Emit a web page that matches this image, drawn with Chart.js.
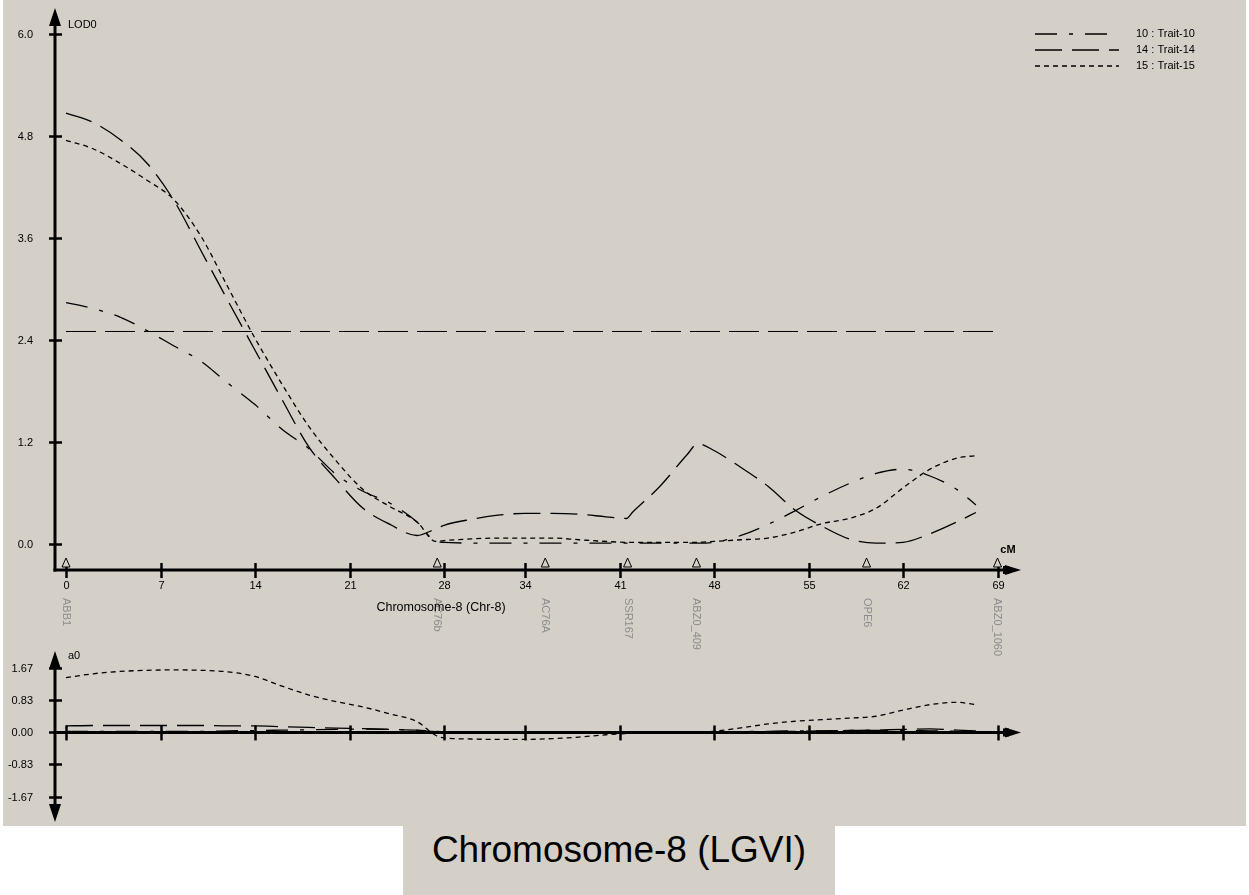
<!DOCTYPE html>
<html>
<head>
<meta charset="utf-8">
<script src="https://cdn.jsdelivr.net/npm/chart.js@4.4.1/dist/chart.umd.min.js"></script>
<style>
  html, body { margin: 0; padding: 0; background: #ffffff; }
  #panel { position: absolute; left: 3px; top: 0; width: 1243px; height: 826px; background: #d4d0c8; }
  canvas { position: absolute; left: 0; }
  #lodChart { top: 0; }
  #addChart { top: 640px; }
  #caption {
    position: absolute; left: 403px; top: 826px; width: 432px; height: 66px;
    padding-top: 3px; background: #d4d0c8; text-align: center;
    font: 37px "Liberation Sans", Arial, sans-serif; line-height: 42px; color: #000;
  }
</style>
</head>
<body>
<div id="panel"></div>
<canvas id="lodChart" width="1249" height="680"></canvas>
<canvas id="addChart" width="1249" height="190"></canvas>
<div id="caption">Chromosome-8 (LGVI)</div>

<script>
// positions along the chromosome (cM)
const positions = [0, 2, 4, 6, 8, 10, 12, 14, 16, 18, 20, 22, 24, 26, 27.4, 28, 30, 32, 34, 36, 38, 40,
    41.5, 42, 44, 46, 46.8, 48, 50, 52, 54, 56, 58, 60, 62, 64, 66, 67.4];

// LOD profiles
const lod10 = [2.84, 2.77, 2.67, 2.51, 2.33, 2.15, 1.89, 1.64, 1.35, 1.12, 0.82, 0.62, 0.48, 0.26, 0.03, 0.02,
    0.01, 0.01, 0.01, 0.01, 0.01, 0.01, 0.01, 0.01, 0.01, 0.01, 0.01, 0.02, 0.1, 0.23, 0.39, 0.56, 0.71, 0.83,
    0.88, 0.8, 0.64, 0.46];
const lod14 = [5.07, 4.96, 4.76, 4.48, 4.04, 3.45, 2.86, 2.28, 1.7, 1.14, 0.76, 0.42, 0.23, 0.1, 0.18, 0.22,
    0.29, 0.34, 0.36, 0.36, 0.35, 0.32, 0.3, 0.38, 0.68, 1.05, 1.18, 1.1, 0.9, 0.68, 0.4, 0.21, 0.06, 0.01,
    0.02, 0.12, 0.26, 0.37];
const lod15 = [4.75, 4.65, 4.48, 4.28, 4.05, 3.62, 3.02, 2.42, 1.88, 1.38, 0.98, 0.64, 0.44, 0.26, 0.03, 0.04,
    0.06, 0.07, 0.07, 0.07, 0.05, 0.03, 0.02, 0.02, 0.02, 0.02, 0.02, 0.03, 0.05, 0.07, 0.14, 0.24, 0.3, 0.42,
    0.66, 0.88, 1.01, 1.04];

// additive effects (a0)
const add10 = [0.03, 0.03, 0.03, 0.03, 0.03, 0.03, 0.04, 0.05, 0.06, 0.07, 0.08, 0.09, 0.08, 0.05, 0.02, 0.01,
    0, 0, 0, 0, 0, -0.01, -0.02, -0.02, -0.02, -0.02, -0.01, 0, 0.02, 0.03, 0.04, 0.04, 0.05, 0.05, 0.05, 0.04,
    0.03, 0.02];
const add14 = [0.17, 0.18, 0.18, 0.18, 0.18, 0.18, 0.17, 0.17, 0.15, 0.13, 0.11, 0.1, 0.08, 0.06, 0.03, 0.02,
    0.01, 0, 0, 0, -0.01, -0.02, -0.02, -0.02, -0.02, -0.02, -0.02, -0.01, 0, 0.02, 0.03, 0.04, 0.05, 0.06,
    0.08, 0.09, 0.06, 0.04];
const add15 = [1.42, 1.52, 1.58, 1.61, 1.62, 1.61, 1.57, 1.45, 1.2, 0.97, 0.8, 0.66, 0.48, 0.28, -0.08, -0.14,
    -0.17, -0.18, -0.18, -0.16, -0.12, -0.06, -0.03, -0.02, 0, 0, 0, 0.03, 0.12, 0.22, 0.29, 0.33, 0.37, 0.42,
    0.58, 0.72, 0.78, 0.72];

const threshold = 2.5;
const thresholdSpan = [0, 69];

const markerNames = ['ABB1', 'AC76b', 'AC76A', 'SSR167', 'ABZ0_409', 'OPE6', 'ABZ0_1060'];
const markerPos = [0, 27.5, 35.5, 41.6, 46.7, 59.3, 69.0];

const xTicks = [0, 7, 14, 21, 28, 34, 41, 48, 55, 62, 69];
const lodTicks = [0, 1.2, 2.4, 3.6, 4.8, 6.0];
const addTicks = [-1.67, -0.83, 0, 0.83, 1.67];

const traitLabels = ['10 : Trait-10', '14 : Trait-14', '15 : Trait-15'];

const DASH10 = [22, 12, 4, 12];
const DASH14 = [27, 10];
const DASH15 = [5, 4];
const FONT = '"Liberation Sans", Arial, sans-serif';

const pts = vals => vals.map((v, i) => ({ x: positions[i], y: v }));

function line(vals, dash) {
    return { data: pts(vals), borderColor: '#000', borderWidth: 1.3, borderDash: dash, pointRadius: 0,
        cubicInterpolationMode: 'monotone', fill: false };
}

function tri(ctx, a, b, c) {
    ctx.beginPath();
    ctx.moveTo(a[0], a[1]);
    ctx.lineTo(b[0], b[1]);
    ctx.lineTo(c[0], c[1]);
    ctx.closePath();
    ctx.fill();
}

// axes with arrows and crossing tick marks, drawn off the chart's own scales
function drawAxes(chart, o) {
    const { ctx, chartArea: area, scales: { x, y } } = chart;
    const x0 = area.left;
    const axisY = o.xAxisAt === null ? area.bottom : y.getPixelForValue(o.xAxisAt);

    ctx.save();
    ctx.strokeStyle = '#000';
    ctx.fillStyle = '#000';
    ctx.lineWidth = 3;

    ctx.beginPath();
    ctx.moveTo(x0, area.top + 10);
    ctx.lineTo(x0, o.arrowDown ? area.bottom - 10 : area.bottom + 1.5);
    ctx.stroke();

    ctx.beginPath();
    ctx.moveTo(x0 - 1.5, axisY);
    ctx.lineTo(area.right - 10, axisY);
    ctx.stroke();

    tri(ctx, [x0, area.top], [x0 - 6, area.top + 18], [x0 + 6, area.top + 18]);
    if (o.arrowDown) tri(ctx, [x0, area.bottom], [x0 - 6, area.bottom - 18], [x0 + 6, area.bottom - 18]);
    tri(ctx, [area.right, axisY], [area.right - 16, axisY - 5], [area.right - 16, axisY + 5]);
    ctx.fillRect(area.right - 18, axisY - 4, 6, 8);

    ctx.lineWidth = 2.5;
    ctx.font = '11px ' + FONT;
    ctx.textAlign = 'right';
    ctx.textBaseline = 'middle';
    o.yTicks.forEach(v => {
        const py = Math.round(y.getPixelForValue(v)) + 0.5;
        ctx.beginPath();
        ctx.moveTo(x0 - 6, py);
        ctx.lineTo(x0 + 7, py);
        ctx.stroke();
        ctx.fillText(v.toFixed(o.digits), 33, py);
    });

    ctx.textAlign = 'center';
    xTicks.forEach(v => {
        const px = Math.round(x.getPixelForValue(v)) + 0.5;
        ctx.beginPath();
        ctx.moveTo(px, axisY - 7);
        ctx.lineTo(px, axisY + 8);
        ctx.stroke();
        if (o.xLabels) ctx.fillText(String(v), px, axisY + 16);
    });

    ctx.textAlign = 'left';
    ctx.fillText(o.yTitle, x0 + 13, area.top + o.titleDy);
    ctx.restore();
}

const lodFrame = {
    id: 'lodFrame',
    afterDraw(chart) {
        const { ctx, chartArea: area, scales: { x } } = chart;
        drawAxes(chart, { xAxisAt: null, arrowDown: false, yTicks: lodTicks, digits: 1, xLabels: true,
            yTitle: 'LOD0', titleDy: 17 });
        const axisY = area.bottom;

        ctx.save();
        // marker triangles and names
        markerPos.forEach((m, i) => {
            const px = x.getPixelForValue(m);
            ctx.fillStyle = '#d4d0c8';
            ctx.strokeStyle = '#000';
            ctx.lineWidth = 1;
            ctx.beginPath();
            ctx.moveTo(px, axisY - 12);
            ctx.lineTo(px - 4, axisY - 3);
            ctx.lineTo(px + 4, axisY - 3);
            ctx.closePath();
            ctx.fill();
            ctx.stroke();

            ctx.save();
            ctx.translate(px, axisY + 28);
            ctx.rotate(Math.PI / 2);
            ctx.font = '11px ' + FONT;
            ctx.fillStyle = '#8c8c8c';
            ctx.textAlign = 'left';
            ctx.textBaseline = 'middle';
            ctx.fillText(markerNames[i], 0, 0);
            ctx.restore();
        });

        ctx.fillStyle = '#000';
        ctx.font = '12.5px ' + FONT;
        ctx.textAlign = 'center';
        ctx.textBaseline = 'middle';
        ctx.fillText('Chromosome-8 (Chr-8)', 441, axisY + 38);

        ctx.font = 'bold 11px ' + FONT;
        ctx.fillText('cM', 1008, axisY - 20);

        // legend
        const dashes = [DASH10, DASH14, DASH15];
        ctx.font = '11px ' + FONT;
        ctx.textAlign = 'left';
        ctx.strokeStyle = '#000';
        ctx.lineWidth = 1.3;
        traitLabels.forEach((t, i) => {
            const ly = 34 + i * 16;
            ctx.setLineDash(dashes[i]);
            ctx.beginPath();
            ctx.moveTo(1035, ly);
            ctx.lineTo(1119, ly);
            ctx.stroke();
            ctx.setLineDash([]);
            ctx.fillText(t, 1136, ly);
        });
        ctx.restore();
    }
};

const addFrame = {
    id: 'addFrame',
    afterDraw(chart) {
        drawAxes(chart, { xAxisAt: 0, arrowDown: true, yTicks: addTicks, digits: 2, xLabels: false,
            yTitle: 'a0', titleDy: 5 });
    }
};

const common = {
    responsive: false,
    animation: false,
    devicePixelRatio: 1,
    plugins: { legend: { display: false }, tooltip: { enabled: false } },
};

new Chart(document.getElementById('lodChart'), {
    type: 'line',
    data: {
        datasets: [
            { data: thresholdSpan.map(p => ({ x: p, y: threshold })), borderColor: '#000', borderWidth: 1,
                borderDash: [30, 9], pointRadius: 0 },
            line(lod10, DASH10),
            line(lod14, DASH14),
            line(lod15, DASH15),
        ]
    },
    options: {
        ...common,
        layout: { padding: { left: 55, right: 228, top: 8, bottom: 110 } },
        scales: {
            x: { type: 'linear', min: -0.815, max: 70.74, display: false },
            y: { min: -0.306, max: 6.306, display: false },
        },
    },
    plugins: [lodFrame],
});

new Chart(document.getElementById('addChart'), {
    type: 'line',
    data: {
        datasets: [
            line(add10, DASH10),
            line(add14, DASH14),
            line(add15, DASH15),
        ]
    },
    options: {
        ...common,
        layout: { padding: { left: 55, right: 228, top: 11, bottom: 8 } },
        scales: {
            x: { type: 'linear', min: -0.815, max: 70.74, display: false },
            y: { min: -2.32, max: 2.11, display: false },
        },
    },
    plugins: [addFrame],
});
</script>
</body>
</html>
